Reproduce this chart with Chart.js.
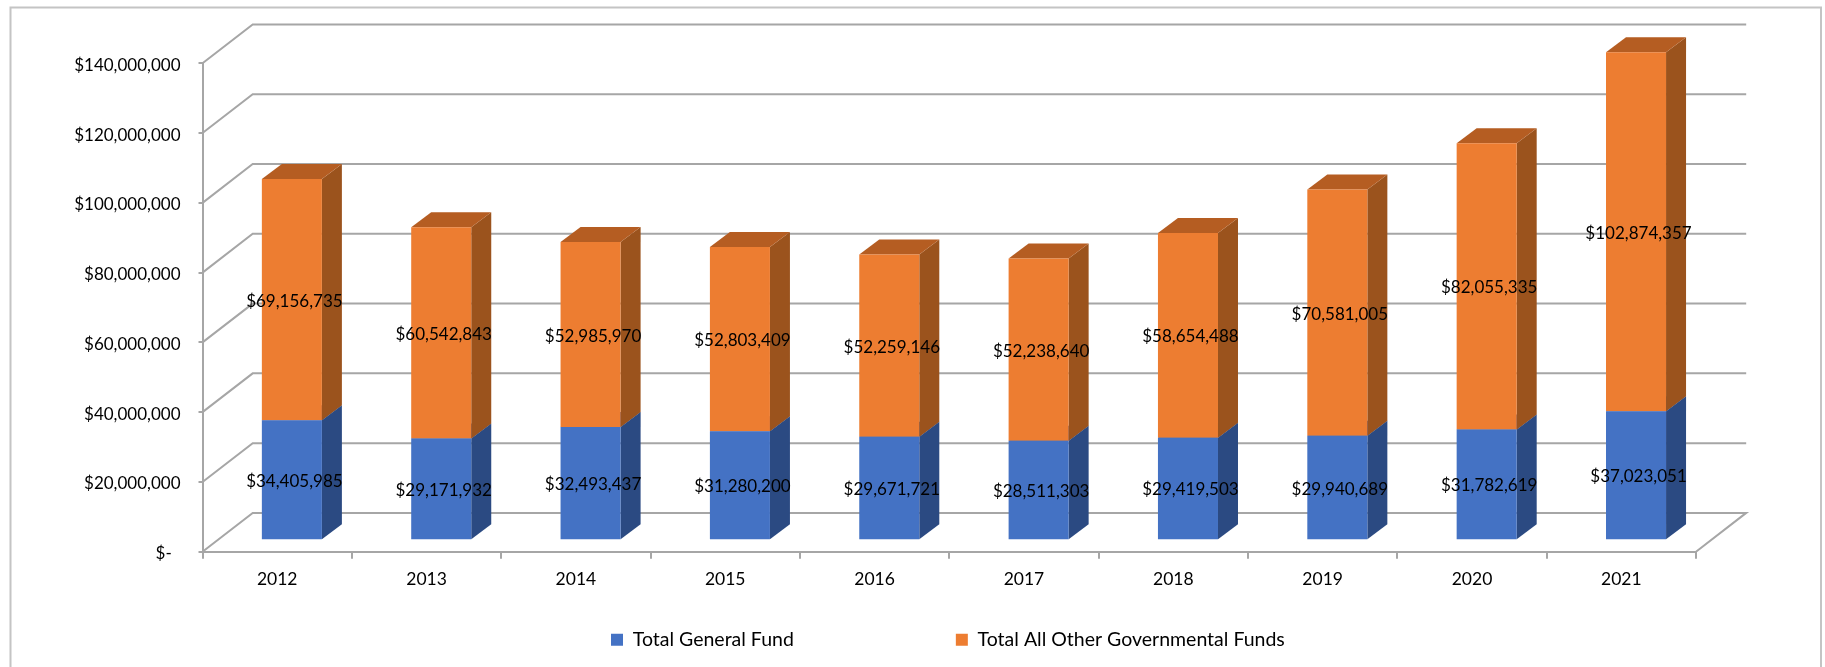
<!DOCTYPE html>
<html>
<head>
<meta charset="utf-8">
<style>
html,body{margin:0;padding:0;background:#fff;}
#wrap{position:absolute;left:0;top:0;width:1825px;height:667px;overflow:hidden;}
canvas{display:block;filter:blur(0.45px);}
</style>
<script src="https://cdn.jsdelivr.net/npm/chart.js@4"></script>
</head>
<body>
<div id="wrap"><canvas id="c" width="1825" height="667"></canvas></div>
<script>
const categories = ['2012','2013','2014','2015','2016','2017','2018','2019','2020','2021'];
const generalFund = [34405985,29171932,32493437,31280200,29671721,28511303,29419503,29940689,31782619,37023051];
const otherFunds = [69156735,60542843,52985970,52803409,52259146,52238640,58654488,70581005,82055335,102874357];
const seriesNames = ['Total General Fund','Total All Other Governmental Funds'];
const yMax = 140000000;
const yStep = 20000000;

const GRID = '#a6a6a6';
const GRID_W = 2;
const FONT = 'Lato';
const wallDepth = {dx:50.2, dy:-38.8};
const barInset = {dx:14.7, dy:-11.4};
const barDepth = {dx:20, dy:-15};
const faces = [
  {front:'#4472C4', side:'#2B4A82', top:'#345A9E'},
  {front:'#ED7D31', side:'#9B531D', top:'#B55D22'}
];
const money = v => '$' + Math.round(v).toLocaleString('en-US');

const frame3d = {
  id:'frame3d',
  afterLayout(chart){
    const lg = chart.legend;
    const pad = lg.options.labels.padding;
    lg.left = 611 - pad;
    lg.top = 630 - pad;
    lg.right = 1825;
    lg.bottom = 667;
  },
  beforeDraw(chart){
    const c = chart.ctx;
    c.save();
    c.strokeStyle = '#c4c4c4';
    c.lineWidth = 2;
    c.beginPath();
    c.moveTo(10.5,667); c.lineTo(10.5,7.5); c.lineTo(1821,7.5); c.lineTo(1821,667);
    c.stroke();
    c.restore();
  },
  beforeDatasetsDraw(chart){
    const c = chart.ctx, y = chart.scales.y, a = chart.chartArea;
    c.save();
    c.strokeStyle = GRID;
    c.lineWidth = GRID_W;
    y.ticks.forEach((t,i) => {
      const py = y.getPixelForValue(t.value);
      c.beginPath();
      c.moveTo(a.left, py);
      c.lineTo(a.left + wallDepth.dx, py + wallDepth.dy);
      c.lineTo(a.right + wallDepth.dx, py + wallDepth.dy);
      if (t.value === 0) c.lineTo(a.right, py);
      c.stroke();
    });
    // side and top faces of each stacked block
    chart.data.datasets.forEach((ds,di) => {
      const meta = chart.getDatasetMeta(di);
      meta.data.forEach(el => {
        const r = el.x + el.width/2 + barInset.dx;
        const l = el.x - el.width/2 + barInset.dx;
        const t = el.y + barInset.dy, b = el.base + barInset.dy;
        c.fillStyle = faces[di].side;
        c.beginPath();
        c.moveTo(r,t); c.lineTo(r+barDepth.dx,t+barDepth.dy);
        c.lineTo(r+barDepth.dx,b+barDepth.dy); c.lineTo(r,b);
        c.closePath(); c.fill();
        c.fillStyle = faces[di].top;
        c.beginPath();
        c.moveTo(l,t); c.lineTo(l+barDepth.dx,t+barDepth.dy);
        c.lineTo(r+barDepth.dx,t+barDepth.dy); c.lineTo(r,t);
        c.closePath(); c.fill();
      });
    });
    c.restore();
  },
  beforeDatasetDraw(chart){
    chart.ctx.save();
    chart.ctx.translate(barInset.dx, barInset.dy);
  },
  afterDatasetDraw(chart){
    chart.ctx.restore();
  },
  afterDatasetsDraw(chart){
    const c = chart.ctx;
    c.save();
    c.fillStyle = '#000';
    c.font = '17px ' + FONT;
    c.textAlign = 'center';
    c.textBaseline = 'middle';
    chart.data.datasets.forEach((ds,di) => {
      chart.getDatasetMeta(di).data.forEach((el,i) => {
        c.fillText(money(ds.data[i]), el.x + barInset.dx + 2.5, (el.y + el.base)/2 + barInset.dy + 1.5);
      });
    });
    c.restore();
  }
};

new Chart(document.getElementById('c'), {
  type:'bar',
  data:{
    labels:categories,
    datasets:[
      {label:seriesNames[0], data:generalFund, backgroundColor:faces[0].front, clip:false},
      {label:seriesNames[1], data:otherFunds, backgroundColor:faces[1].front, clip:false}
    ]
  },
  options:{
    responsive:false,
    animation:false,
    devicePixelRatio:1,
    layout:{padding:{left:0, right:129, top:63.3, bottom:45.3}},
    categoryPercentage:1,
    barPercentage:0.402,
    plugins:{
      tooltip:{enabled:false},
      title:{display:false},
      legend:{
        position:'bottom',
        align:'start',
        maxHeight:30,
        labels:{
          boxWidth:12, boxHeight:12, padding:162, color:'#000',
          font:{family:FONT, size:19.5}
        }
      }
    },
    scales:{
      x:{
        stacked:true,
        afterFit:s => { s.height = 40; },
        grid:{drawOnChartArea:false, drawTicks:true, tickLength:7, color:GRID, lineWidth:GRID_W, offset:true},
        border:{display:true, color:GRID, width:GRID_W},
        ticks:{color:'#000', padding:10, font:{family:FONT, size:17.5}, maxRotation:0, autoSkip:false}
      },
      y:{
        stacked:true,
        min:0, max:yMax,
        afterFit:s => { s.width = 202.5; },
        grid:{drawOnChartArea:false, drawTicks:true, tickLength:4, color:GRID, lineWidth:GRID_W},
        border:{display:true, color:GRID, width:GRID_W},
        ticks:{
          stepSize:yStep, color:'#000', padding:18, labelOffset:2, font:{family:FONT, size:17},
          callback:v => v === 0 ? '$-  ' : money(v)
        }
      }
    }
  },
  plugins:[frame3d]
});
</script>
</body>
</html>
